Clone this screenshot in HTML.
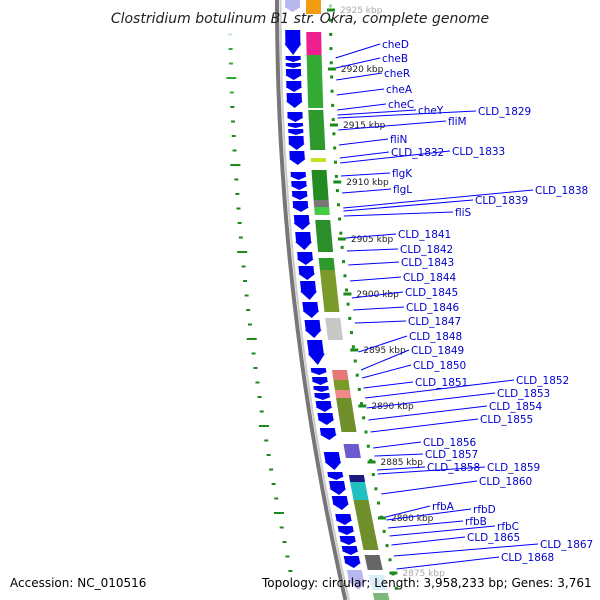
<!DOCTYPE html>
<html><head><meta charset="utf-8"><style>
body{margin:0;background:#fff;}
svg{display:block;font-family:"DejaVu Sans","Liberation Sans",sans-serif;}
</style></head><body>
<svg id="map" width="600" height="600" viewBox="0 0 600 600">
<g id="left-dots"></g>
<g id="backbone"></g>
<g id="genes"></g>
<g id="blocks"></g>
<g id="ticks"></g>
<g id="labels"></g>
<text x="300" y="23" text-anchor="middle" font-size="14" font-style="italic" fill="#222">Clostridium botulinum B1 str. Okra, complete genome</text>
<text x="10" y="587" font-size="12" fill="#000">Accession: NC_010516</text>
<text x="262" y="587" font-size="12" fill="#000">Topology: circular; Length: 3,958,233 bp; Genes: 3,761</text>
</svg>
<script>
const geneNames=["cheD","cheB","cheR","cheA","cheC","cheY","CLD_1829","fliM","fliN","CLD_1832","CLD_1833","flgK","flgL","CLD_1838","CLD_1839","fliS","CLD_1841","CLD_1842","CLD_1843","CLD_1844","CLD_1845","CLD_1846","CLD_1847","CLD_1848","CLD_1849","CLD_1850","CLD_1851","CLD_1852","CLD_1853","CLD_1854","CLD_1855","CLD_1856","CLD_1857","CLD_1858","CLD_1859","CLD_1860","rfbA","rfbD","rfbB","rfbC","CLD_1865","CLD_1867","CLD_1868"];
const labelX=[382,382,384,386,388,418,478,448,390,391,452,392,393,535,475,455,398,400,401,403,405,406,408,409,411,413,415,516,497,489,480,423,425,427,487,479,432,473,465,497,467,540,501];
const labelY=[44,58,73,89,104,110,111,121,139,152,151,173,189,190,200,212,234,249,262,277,292,307,321,336,350,365,382,380,393,406,419,442,454,467,467,481,506,509,521,526,537,544,557];
const lineStartY=[58,68,80,95,110,115,118,130,145,158,163,176,193,208,211,216,238,251,265,281,298,310,323,352,370,378,388,398,408,420,432,448,456,470,474,494,517,520,528,536,545,556,569];
const tickKbp=[2925,2920,2915,2910,2905,2900,2895,2890,2885,2880,2875];
const tickY=[10,69,125,182,239,294,350,406,462,518,573];
const geneSegs=[[0,12],[30,55],[56,62],[63,68],[69,80],[81,92],[93,108],[112,122],[123,128],[129,135],[136,150],[151,165],[172,180],[181,190],[191,200],[201,212],[215,230],[232,250],[252,265],[266,280],[281,300],[302,318],[320,338],[340,365],[368,375],[377,385],[386,392],[393,400],[401,412],[413,425],[428,440],[452,470],[472,480],[481,495],[496,510],[514,525],[526,535],[536,545],[546,555],[556,568],[570,590]];
const blockY0=[0,32,55,110,158,170,200,207,220,258,270,318,370,380,390,398,444,475,482,500,555,575,593];
const blockY1=[14,55,108,150,162,200,207,215,252,270,312,340,380,390,398,432,458,482,500,550,570,590,600];
const blockColor=["#f39c12","#ee1f8e","#33aa33","#2e9a2e","#c8e020","#228b22","#777","#44cc44","#2a8f2a","#2e9a2e","#7a9a2a","#c8c8c8","#e87878","#7a9a2a","#f08a8a","#6f8f2a","#6a5acd","#1a1a80","#20c0c0","#6f8f2a","#666","#bfe3f5","#228b22"];
const NS="http://www.w3.org/2000/svg";
function bx(y){return 277+0.00019*y*y;}
function lx(y){return 230+0.00018*y*y+0.003*y;}
function mk(tag,attrs,parent){const e=document.createElementNS(NS,tag);for(const k in attrs)e.setAttribute(k,attrs[k]);parent.appendChild(e);return e;}
const G=id=>document.getElementById(id);
// backbone
let p1="",p2="";
for(let y=0;y<=600;y+=10){p1+=(y?"L":"M")+bx(y).toFixed(1)+","+y;p2+=(y?"L":"M")+(bx(y)+3.5).toFixed(1)+","+y;}
let bb=mk("path",{d:p1,stroke:"#777",fill:"none","stroke-width":4},G("backbone"));


mk("path",{d:p2,stroke:"#ccc",fill:"none","stroke-width":2},G("backbone"));
// left dots
for(let y=20,i=0;y<595;y+=14.5,i++){
 const x=lx(y),len=(i%6==4)?10:4;
 const d=mk("rect",{x:x-len/2,y:y-1,width:len,height:2,fill:y<100?"#3a3":"#1a8a1a",opacity:y<40||y>575?0.3:1},G("left-dots"));
 
 
}
// genes
geneSegs.forEach(s=>{
 const [a,b]=s,h=b-a,tip=a+h*0.55;
 const xa=bx(a)+8,xb=bx(b)+8,w=15;
 const pts=[[xa,a],[xa+w,a],[bx(tip)+8+w,tip],[bx(tip)+8+w+1,tip],[xb+w/2,b],[bx(tip)+8-1,tip],[bx(tip)+8,tip]];
 const g=mk("polygon",{points:pts.map(p=>p[0].toFixed(1)+","+p[1].toFixed(1)).join(" "),fill:(a<30||a>568)?"#b8b8f0":"#0000f0"},G("genes"));
 
 
});
// blocks
blockY0.forEach((a,i)=>{
 const b=blockY1[i];
 const pts=[[bx(a)+29,a],[bx(a)+44,a],[bx(b)+44,b],[bx(b)+29,b]];
 const r=mk("polygon",{points:pts.map(p=>p[0].toFixed(1)+","+p[1].toFixed(1)).join(" "),fill:blockColor[i],opacity:(a>570)?0.6:1},G("blocks"));
 
 
});
// green dots right
for(let y=6;y<600;y+=14.2){
 const d=mk("rect",{x:bx(y)+52,y:y-1.5,width:3,height:3,fill:"#1a8a1a",opacity:y<15?0.4:1},G("ticks"));
 
 
}
tickKbp.forEach((k,i)=>{
 const y=tickY[i];
 const m=mk("rect",{x:bx(y)+50,y:y-1.5,width:8,height:3,fill:"#1a8a1a"},G("ticks"));
 
 
 const t=mk("text",{x:bx(y)+63,y:y+3,"font-size":9,fill:(i==0||i==tickKbp.length-1)?"#aaa":"#222"},G("ticks"));
 t.textContent=k+" kbp";
 
 
});
// labels
geneNames.forEach((n,i)=>{
 const ys=lineStartY[i],xs=bx(ys)+58;
 const l=mk("line",{x1:xs,y1:ys,x2:labelX[i]-2,y2:labelY[i],stroke:"#00f","stroke-width":1},G("labels"));
 
 
 const t=mk("text",{x:labelX[i],y:labelY[i]+4,"font-size":10.5,fill:"#00c"},G("labels"));
 t.textContent=n;
 
 
});
</script>
</body></html>
